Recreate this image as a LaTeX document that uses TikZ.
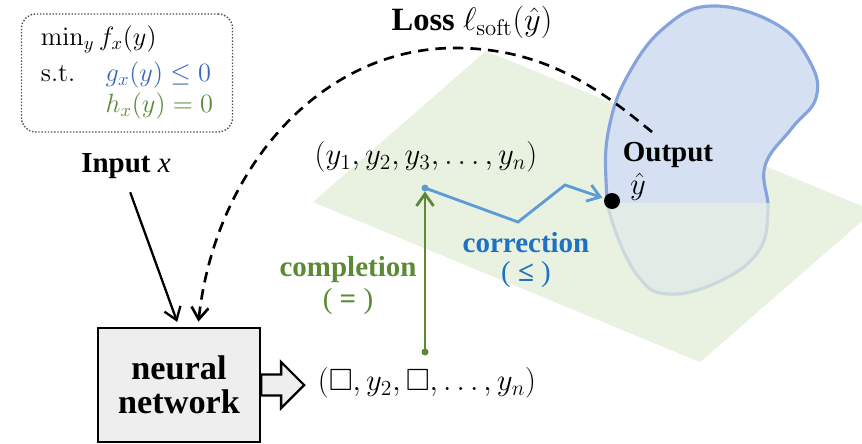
\RequirePackage{fix-cm}
\documentclass[tikz,border=0pt]{standalone}
\usepackage{amsmath,amssymb}
\usepackage[no-math]{fontspec}
\setmainfont{Liberation Serif}
\usepackage{tikz}
\usetikzlibrary{arrows.meta, positioning, calc}
\usepackage{xcolor}
\definecolor{planegreen}{HTML}{E9F1E1}
\definecolor{blobfill}{HTML}{D6E0F3}
\definecolor{blobline}{HTML}{86A3DC}
\definecolor{compgreen}{HTML}{5A8A36}
\definecolor{corrline}{HTML}{5B9BD8}
\definecolor{corrtext}{HTML}{1F72C2}
\definecolor{consblue}{HTML}{3A66B6}
\definecolor{boxgray}{HTML}{EEEEEE}

\begin{document}
\begin{tikzpicture}[x=0.02cm, y=-0.02cm,
    lbl/.style={font=\fontsize{16.5}{20}\selectfont, inner sep=1pt},
    mathlbl/.style={font=\fontsize{17.5}{21}\selectfont, inner sep=1pt},
    nnbox/.style={rectangle, draw=black, line width=1.3pt, fill=boxgray, minimum width=3.24cm, minimum height=2.28cm, align=center, font=\fontsize{19.5}{19.5}\selectfont\bfseries},
    probbox/.style={rectangle, draw=black!70, densely dotted, line width=0.8pt, rounded corners=8pt, minimum width=4.22cm, minimum height=2.36cm, font=\fontsize{15}{18}\selectfont},
    blockarrow/.style={draw=black, line width=1.3pt, fill=boxgray, line join=miter},
    plain/.style={-{Straight Barb[length=2.4mm, width=3.4mm]}, line width=1.3pt},
    lossarrow/.style={-{Straight Barb[length=2.4mm, width=3.4mm]}, line width=1.5pt, dash pattern=on 6pt off 4pt},
    complete/.style={-{Straight Barb[length=2.4mm, width=3.4mm]}, line width=1.6pt, compgreen},
    correct/.style={-{Straight Barb[length=2.4mm, width=3.4mm]}, line width=1.6pt, corrline},
    outdot/.style={circle, fill=black, inner sep=0pt, minimum size=0.32cm}]
\useasboundingbox (0,0) rectangle (862,443);

% constraint plane and feasible set
\fill[planegreen] (486,51) -- (862,206) -- (862,221) -- (700,362) -- (313,202) -- cycle;
\draw[blobline, line width=1.8pt, fill=blobfill] plot[smooth cycle, tension=0.7] coordinates {
    (712,6) (665,27) (628,75) (609,128) (606,180) (613,224) (638,276) (668,294)
    (718,282) (758,252) (768,211) (765,166) (792,128) (816,98) (810,62) (776,24)};
\begin{scope}
  \clip (300,203) rectangle (862,443);
  \fill[planegreen, opacity=0.7] (486,51) -- (862,206) -- (862,221) -- (700,362) -- (313,202) -- cycle;
\end{scope}

% problem
\node[probbox] (prob) at (127,73) {%
  \begin{tabular}{@{}l@{\hspace{1.15em}}l@{}}
  \multicolumn{2}{@{}l}{$\min_y f_x(y)$}\\[2pt]
  $\mathrm{s.t.}$ & $\color{consblue}g_x(y)\le 0$\\
   & $\color{compgreen}h_x(y)=0$
  \end{tabular}};

% nodes
\node[lbl] (input) at (126,166) {\textbf{Input} \textit{x}};
\node[nnbox] (nn) at (179,385) {neural\\network};
\node[mathlbl] (partial) at (427,383) {$(\square, y_2, \square, \ldots, y_n)$};
\node[mathlbl] (full) at (426,157) {$(y_1, y_2, y_3, \ldots, y_n)$};
\node[outdot] (yhat) at (612,201) {};
\node[mathlbl] (yhatlbl) at (638,187) {$\hat{y}$};
\node[lbl] (outlbl) at (668,155) {\textbf{Output}};
\node[lbl, font=\fontsize{18.5}{22}\selectfont] (loss) at (472,22) {\textbf{Loss} $\ell_{\mathrm{soft}}(\hat{y})$};
\node[lbl, compgreen] (comptxt) at (348,270) {\textbf{completion}};
\node[lbl, compgreen] (compsym) at (348,302) {( \textbf{=} )};
\node[lbl, corrtext] (corrtxt) at (526,243) {\textbf{correction}};
\node[lbl, corrtext] (corrsym) at (526,275) {( \textbf{≤} )};

\coordinate (compstart) at (425,352);
\coordinate (corrstart) at (425,188);
\coordinate (bend1) at (518,222);
\coordinate (bend2) at (565,185);
\coordinate (lossstart) at (652,132);

% block arrow out of the network
\draw[blockarrow] (nn.east) ++(0,-10.5) -- ++(20,0) -- ++(0,-12.5) -- ++(23,23)
    -- ++(-23,23) -- ++(0,-12.5) -- ++(-20,0) -- cycle;

% connectors
\draw[plain, shorten <=7pt, shorten >=3pt] (input.south) -- (nn.north);
\draw[lossarrow, shorten >=3pt] (lossstart) .. controls (601,90) and (545,48) .. (455,48)
    .. controls (320,48) and (215,170) .. (nn.72);
\draw[complete, shorten >=2pt] (compstart) -- (corrstart);
\fill[compgreen] (compstart) circle (3.5);
\draw[correct, shorten >=1pt] (corrstart) -- (bend1) -- (bend2) -- (yhat);
\fill[corrline] (corrstart) circle (3.5);
\end{tikzpicture}
\end{document}
